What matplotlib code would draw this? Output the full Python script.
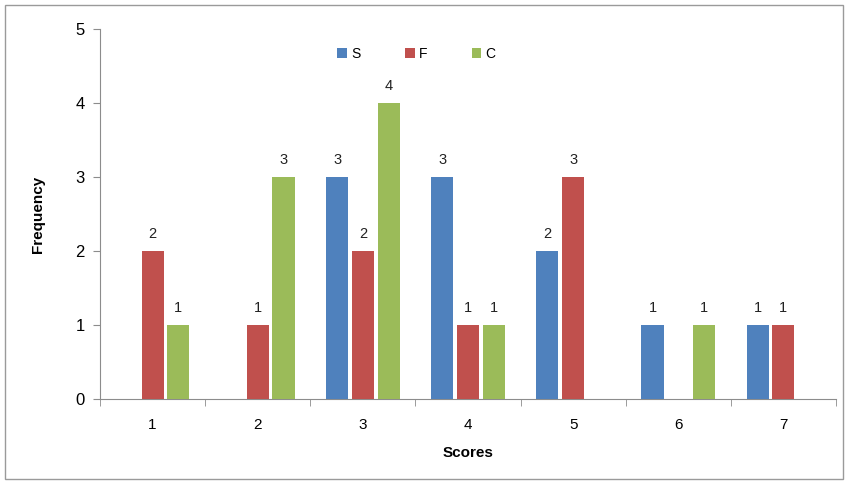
#!/usr/bin/env python3
"""Grouped bar chart of score frequencies for S, F and C."""

import matplotlib

matplotlib.use("Agg")
import matplotlib.pyplot as plt
import numpy as np
from matplotlib.patches import Rectangle

scores = ["1", "2", "3", "4", "5", "6", "7"]
series_names = ["S", "F", "C"]
s_freq = [0, 0, 3, 3, 2, 1, 1]
f_freq = [2, 1, 2, 1, 3, 0, 1]
c_freq = [1, 3, 4, 1, 0, 1, 0]
y_ticks = [0, 1, 2, 3, 4, 5]

colors = ["#4F81BD", "#C0504D", "#9BBB59"]

plt.rcParams["font.family"] = ["Liberation Sans", "DejaVu Sans"]

fig = plt.figure(figsize=(8.48, 4.83), dpi=100)
ax = fig.add_axes([100 / 848, 1 - 399 / 483, 736 / 848, 370 / 483])

# outer chart border
fig.patches.append(
    Rectangle((5 / 848, 4 / 483), 838 / 848, 474 / 483, transform=fig.transFigure,
              fill=False, edgecolor="#9a9a9a", linewidth=1.0)
)

x = np.arange(len(scores))
bar_w = 0.21
step = 0.245
for i, (name, vals) in enumerate(zip(series_names, [s_freq, f_freq, c_freq])):
    pos = x + (i - 1) * step
    bars = ax.bar(pos, vals, width=bar_w, color=colors[i], label=name, zorder=3)
    for rect, v in zip(bars, vals):
        if v > 0:
            ax.annotate(str(v), (rect.get_x() + rect.get_width() / 2, v),
                        xytext=(0, 7), textcoords="offset points",
                        ha="center", va="bottom", fontsize=10.5, color="#222222")

ax.set_xlim(-0.5, len(scores) - 0.5)
ax.set_ylim(0, 5)
ax.set_yticks(y_ticks)
ax.set_yticklabels([str(t) for t in y_ticks], fontsize=12)
ax.set_xticks(x)
ax.set_xticklabels(scores, fontsize=11)
ax.set_xticks(np.arange(len(scores) + 1) - 0.5, minor=True)
ax.tick_params(axis="x", which="major", length=0, pad=14)
ax.tick_params(axis="x", which="minor", length=5, color="#8c8c8c", direction="out")
ax.tick_params(axis="y", length=5, color="#8c8c8c", direction="out", pad=6)

for side in ["top", "right"]:
    ax.spines[side].set_visible(False)
for side in ["left", "bottom"]:
    ax.spines[side].set_color("#8c8c8c")

ax.set_xlabel("Scores", fontsize=11, fontweight="bold", labelpad=10)
ax.set_ylabel("Frequency", fontsize=11, fontweight="bold", labelpad=22)

ax.legend(loc="upper center", bbox_to_anchor=(0.43, 0.985), ncol=3, frameon=False,
          fontsize=10, handlelength=0.7, handleheight=0.7, handletextpad=0.3,
          columnspacing=3.2)

fig.savefig("out.png", dpi=100)
